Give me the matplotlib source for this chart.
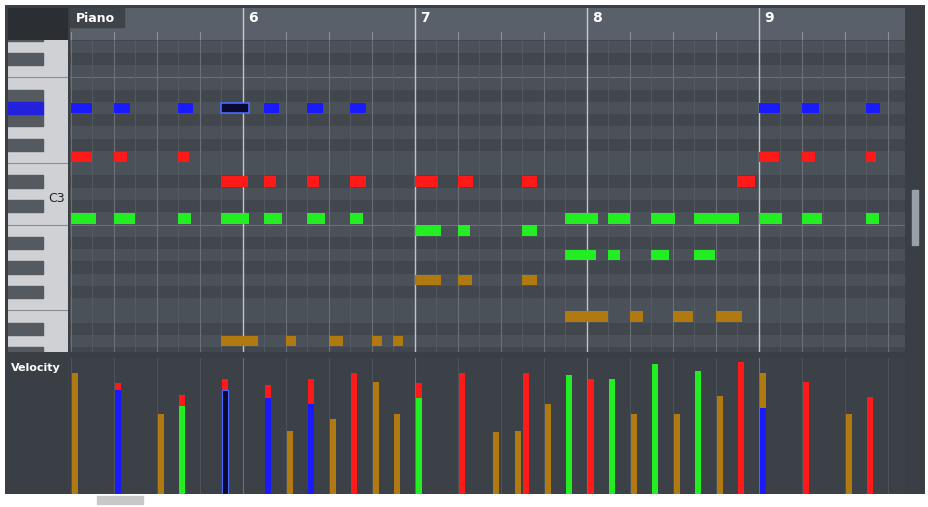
import matplotlib
matplotlib.use("Agg")
import matplotlib.pyplot as plt
from matplotlib.patches import Rectangle

# ---------------- data ----------------
bar_labels = ["6", "7", "8", "9"]
bar_beats = [4, 8, 12, 16]

# notes: (pitch, start beat, length beats)
blue_notes = [(69, 0, 0.5), (69, 1, 0.38), (69, 2.5, 0.33), (69, 4.5, 0.35),
              (69, 5.5, 0.37), (69, 6.5, 0.37), (69, 16, 0.5), (69, 17, 0.4), (69, 18.5, 0.33)]
selected_notes = [(69, 3.5, 0.65)]
red_notes = [(65, 0, 0.5), (65, 1, 0.3), (65, 2.5, 0.25), (65, 16, 0.47), (65, 17, 0.3), (65, 18.5, 0.23),
             (63, 3.5, 0.63), (63, 4.5, 0.28), (63, 5.5, 0.28), (63, 6.5, 0.37), (63, 8, 0.53),
             (63, 9, 0.35), (63, 10.5, 0.33), (63, 15.5, 0.4)]
green_notes = [(60, 0, 0.58), (60, 1, 0.5), (60, 2.5, 0.3), (60, 3.5, 0.65), (60, 4.5, 0.4),
               (60, 5.5, 0.4), (60, 6.5, 0.3), (60, 11.5, 0.77), (60, 12.5, 0.5), (60, 13.5, 0.55),
               (60, 14.5, 1.05), (60, 16, 0.55), (60, 17, 0.47), (60, 18.5, 0.3),
               (59, 8, 0.6), (59, 9, 0.28), (59, 10.5, 0.33),
               (57, 11.5, 0.72), (57, 12.5, 0.28), (57, 13.5, 0.4), (57, 14.5, 0.49)]
brown_notes = [(55, 8, 0.6), (55, 9, 0.33), (55, 10.5, 0.33),
               (52, 11.5, 1.0), (52, 13, 0.3), (52, 14, 0.47), (52, 15, 0.6),
               (50, 3.5, 0.86), (50, 5, 0.23), (50, 6, 0.33), (50, 7, 0.23), (50, 7.5, 0.23)]

# velocity lane bars: (beat, velocity, colour key) drawn in order
vel_beats = [0, 1, 1, 2, 2.5, 2.5, 3.5, 3.5, 4.5, 4.5, 5, 5.5, 5.5, 6, 6.5, 7, 7.5, 8, 8,
             9, 9.8, 10.3, 10.5, 11, 11.5, 12, 12.5, 13, 13.5, 14, 14.5, 15, 15.5, 16, 16, 17, 18, 18.5]
vel_values = [117, 107, 100, 77, 95, 85, 111, 100, 105, 92, 61, 111, 87, 72, 117, 108, 77, 107, 92,
              117, 60, 61, 117, 87, 115, 111, 111, 77, 125, 77, 118, 94, 127, 117, 83, 108, 77, 93]
vel_kinds = ["b", "r", "u", "b", "r", "g", "r", "s", "r", "u", "b", "r", "u", "b", "r", "b", "b", "r", "g",
             "r", "b", "b", "r", "b", "g", "r", "g", "b", "g", "b", "g", "b", "r", "b", "u", "r", "b", "r"]

colors = {"u": "#1a1aff", "r": "#ff1a1a", "g": "#22ee22", "b": "#b07a10", "s": "#0a0a30"}

W, H = 929, 507
fig = plt.figure(figsize=(W / 100, H / 100), dpi=100)
fig.patch.set_facecolor("#ffffff")


def ax_px(l, t, w, h, **kw):
    return fig.add_axes([l / W, 1 - (t + h) / H, w / W, h / H], **kw)


def clean(a):
    a.set_xticks([]); a.set_yticks([])
    for s in a.spines.values():
        s.set_visible(False)


XL = (-0.02, 19.4)
YL = (49.1, 74.55)

bg = ax_px(5, 5, 920, 495)
bg.set_facecolor("#3a3f46"); clean(bg)

# ---------------- ruler ----------------
ru = ax_px(70, 8, 835, 32)
ru.set_xlim(XL); ru.set_ylim(0, 1)
ru.set_facecolor("#596069")
for b, lab in zip(bar_beats, bar_labels):
    ru.axvline(b, color="#c8ccd2", lw=1)
    ru.text(b + 0.12, 0.68, lab, color="white", fontsize=10, fontweight="bold", va="center")
for q in range(0, 20):
    if q not in bar_beats:
        ru.plot([q, q], [0, 0.25], color="#8a9098", lw=0.8)
ru.add_patch(Rectangle((-0.02, 0.4), 1.25, 0.6, color="#3e434a"))
ru.text(0.12, 0.68, "Piano", color="white", fontsize=9, fontweight="bold", va="center")
clean(ru)

# ---------------- piano roll ----------------
ax = ax_px(70, 40, 835, 312)
ax.set_xlim(XL); ax.set_ylim(YL)
ax.set_facecolor("#4b5159")
for p in range(49, 76):
    if p % 12 in (1, 3, 6, 8, 10):
        ax.axhspan(p - 0.5, p + 0.5, color="#42474e", lw=0)
    if p % 12 == 0:
        ax.axhline(p - 0.5, color="#6a7078", lw=0.8)
for t in [i * 0.5 for i in range(40)]:
    if t in bar_beats:
        ax.axvline(t, color="#c0c4ca", lw=1)
    elif t == int(t):
        ax.axvline(t, color="#6a7078", lw=0.8)
    else:
        ax.axvline(t, color="#565c64", lw=0.6)


def draw(notes, col, ec=None):
    for p, s, l in notes:
        ax.add_patch(Rectangle((s, p - 0.42), l, 0.84, facecolor=col, zorder=3,
                               edgecolor=ec if ec else col, lw=1.2 if ec else 0))


draw(blue_notes, colors["u"])
draw(red_notes, colors["r"])
draw(green_notes, colors["g"])
draw(brown_notes, colors["b"])
draw(selected_notes, colors["s"], ec="#4a6aff")
clean(ax)

# ---------------- keyboard ----------------
kb = ax_px(8, 40, 60, 312)
kb.set_xlim(0, 1); kb.set_ylim(YL)
kb.set_facecolor("#cfd1d4")
for p in range(49, 76):
    if p % 12 in (1, 3, 6, 8, 10):
        kb.add_patch(Rectangle((0, p - 0.5), 0.58, 1.0, color="#555a60"))
    if p % 12 in (0, 5):
        kb.axhline(p - 0.5, color="#8a8d91", lw=0.8)
kb.add_patch(Rectangle((0, 68.5), 0.58, 1.0, color="#2222dd"))
kb.text(0.95, 61.6, "C3", ha="right", va="center", fontsize=9, color="#222222")
clean(kb)

tl = ax_px(8, 8, 60, 32)
tl.set_facecolor("#2b2f34"); clean(tl)

# ---------------- velocity lane ----------------
vl = ax_px(70, 358, 835, 136)
vl.set_xlim(XL); vl.set_ylim(0, 131)
vl.set_facecolor("#3c4148")
for t in range(20):
    vl.axvline(t, color="#6a7078" if t in bar_beats else "#4d535a", lw=0.8)
for b, v, k in zip(vel_beats, vel_values, vel_kinds):
    vl.add_patch(Rectangle((b + 0.02, 0), 0.14, v, facecolor=colors[k], zorder=3,
                           edgecolor="#4a6aff" if k == "s" else colors[k], lw=0.8 if k == "s" else 0))
clean(vl)

lab = ax_px(8, 358, 60, 136)
lab.set_facecolor("#3a3f46"); clean(lab)
lab.text(0.05, 0.93, "Velocity", color="white", fontsize=8, fontweight="bold",
         transform=lab.transAxes, va="center")

sb = ax_px(905, 40, 20, 455)
sb.set_facecolor("#3a3f46"); clean(sb)
sb.add_patch(Rectangle((0.35, 0.55), 0.3, 0.12, color="#9aa0a8", transform=sb.transAxes))

bs = ax_px(5, 494, 920, 12)
bs.set_facecolor("#ffffff"); clean(bs)
bs.add_patch(Rectangle((0.1, 0.2), 0.05, 0.6, color="#c8c8c8", transform=bs.transAxes))

fig.savefig("out.png", dpi=100)
